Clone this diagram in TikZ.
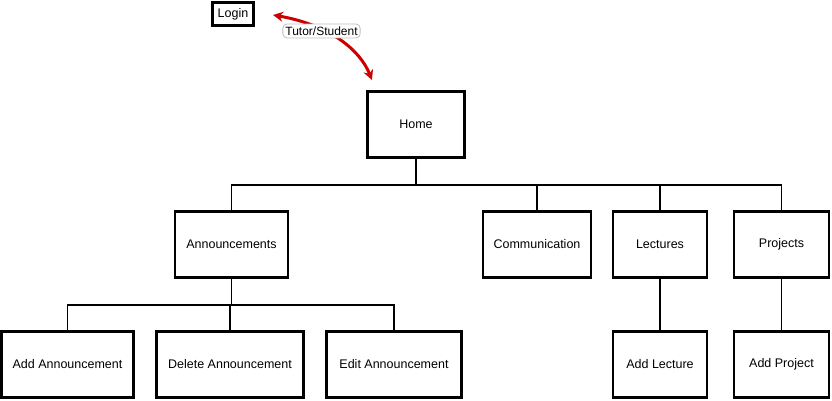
\documentclass[tikz,border=0pt]{standalone}
\usepackage{fontspec}
\setmainfont{Liberation Sans}
\usetikzlibrary{arrows.meta}
\definecolor{arrowred}{RGB}{204,0,0}
\begin{document}
\begin{tikzpicture}[x=1pt,y=-1pt,
  box/.style={draw=black,line width=2.3pt,fill=white,inner sep=0pt,font=\fontsize{12.5}{14}\selectfont},
  conn/.style={draw=black,line width=1.9pt},
  lbl/.style={draw=black!25,rounded corners=4pt,fill=white,line width=0.8pt,font=\fontsize{12}{13}\selectfont,inner sep=2.5pt}]
\useasboundingbox (0,0) rectangle (832,400);
\node[box,minimum width=41pt,minimum height=23pt] (login) at (233,14) {Login};
\node[box,minimum width=97pt,minimum height=66pt] (home) at (416,124.5) {Home};
\node[box,minimum width=113pt,minimum height=66pt] (ann) at (231.5,244.5) {Announcements};
\node[box,minimum width=108pt,minimum height=66pt] (comm) at (537,244.5) {Communication};
\node[box,minimum width=94pt,minimum height=66pt] (lect) at (660,244.5) {Lectures};
\node[box,minimum width=95pt,minimum height=66pt] (proj) at (781.5,244.5) {Projects};
\node[box,minimum width=132pt,minimum height=66pt] (addann) at (67.5,364.5) {Add Announcement};
\node[box,minimum width=147pt,minimum height=66pt] (delann) at (230,364.5) {Delete Announcement};
\node[box,minimum width=135pt,minimum height=66pt] (editann) at (394,364.5) {Edit Announcement};
\node[box,minimum width=94pt,minimum height=66pt] (addlect) at (660,364.5) {Add Lecture};
\node[box,minimum width=95pt,minimum height=66pt] (addproj) at (781.5,364.5) {Add Project};
% level 1 connectors
\coordinate (b1) at (416,185);
\draw[conn] (home.south) -- (b1);
\draw[conn] (ann.north) |- (b1) -| (proj.north);
\draw[conn] (comm.north) -- (comm.north |- b1);
\draw[conn] (lect.north) -- (lect.north |- b1);
% level 2 connectors
\coordinate (b2) at (231.5,305);
\draw[conn] (ann.south) -- (b2);
\draw[conn] (addann.north) |- (b2) -| (editann.north);
\draw[conn] (delann.north) -- (delann.north |- b2);
\draw[conn] (lect.south) -- (addlect.north);
\draw[conn] (proj.south) -- (addproj.north);
% red arrow
\coordinate (aS) at (273,15);
\coordinate (aE) at (372,80);
\draw[arrowred,line width=3pt,{Stealth[length=10pt,width=10pt]}-{Stealth[length=10pt,width=10pt]}]
  (aS) .. controls (330,25) and (360,50) .. (aE);
\node[lbl] (tl) at (321.5,31) {Tutor/Student};
\end{tikzpicture}
\end{document}
